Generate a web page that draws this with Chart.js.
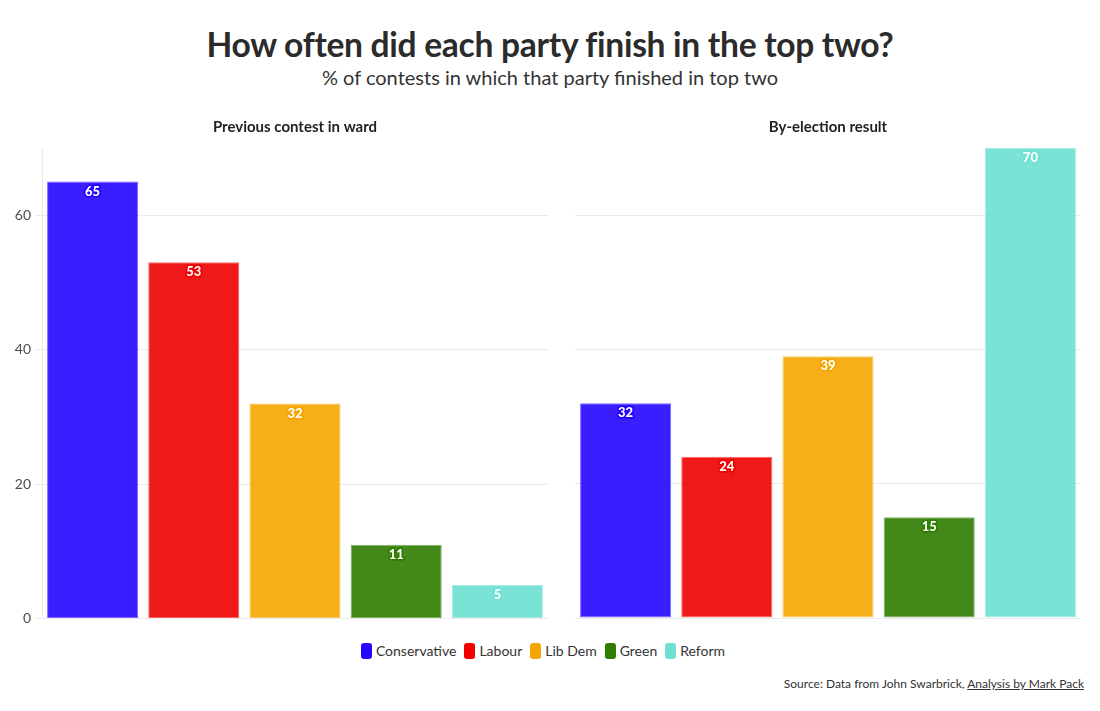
<!DOCTYPE html>
<html>
<head>
<meta charset="utf-8">
<script src="https://cdn.jsdelivr.net/npm/chart.js@4"></script>
<style>
  html, body { margin: 0; padding: 0; background: #fff; }
  body { width: 1100px; height: 711px; position: relative; overflow: hidden; font-family: Lato, "Noto Sans", sans-serif; color: #333; }
  #title { position: absolute; left: 0; width: 1100px; top: 24px; text-align: center; font-size: 33.6px; font-weight: 700; color: #2b2b2b; letter-spacing: -0.3px; }
  #subtitle { position: absolute; left: 0; width: 1100px; top: 65px; text-align: center; font-size: 20px; font-weight: 400; color: #333; }
  .panel { position: absolute; top: 110px; height: 521px; }
  #p1 { left: 0; width: 548px; }
  #p2 { left: 575px; width: 506px; }
  #legend { position: absolute; left: -7px; width: 1100px; top: 642px; display: flex; justify-content: center; font-size: 14px; color: #333; }
  .li { display: flex; align-items: center; margin: 0 4px; }
  .sw { width: 11px; height: 16px; border-radius: 3px; margin-right: 4px; }
  #source { position: absolute; right: 16px; top: 676px; font-size: 12px; color: #333; }
  #source u { text-decoration: underline; }
</style>
</head>
<body>
<div id="title">How often did each party finish in the top two?</div>
<div id="subtitle">% of contests in which that party finished in top two</div>
<div class="panel" id="p1"><canvas id="c1"></canvas></div>
<div class="panel" id="p2"><canvas id="c2"></canvas></div>
<div id="legend"></div>
<div id="source">Source: Data from John Swarbrick, <u>Analysis by Mark Pack</u></div>
<script>
const parties = ['Conservative', 'Labour', 'Lib Dem', 'Green', 'Reform'];
const previousValues = [65, 53, 32, 11, 5];
const byElectionValues = [32, 24, 39, 15, 70];
const yTicks = [0, 20, 40, 60];
const yMax = 70;
const panelTitles = ['Previous contest in ward', 'By-election result'];
const partyColors = ['#2605ff', '#ee0000', '#f5a500', '#2e7c00', '#6ce0d1'];

function withAlpha(hex, a) {
  const r = parseInt(hex.slice(1, 3), 16), g = parseInt(hex.slice(3, 5), 16), b = parseInt(hex.slice(5, 7), 16);
  return `rgba(${r},${g},${b},${a})`;
}

const labelPlugin = {
  id: 'barLabels',
  afterDatasetsDraw(chart) {
    const ctx = chart.ctx;
    const meta = chart.getDatasetMeta(0);
    const ds = chart.data.datasets[0];
    ctx.save();
    ctx.font = '900 13px Lato, "Noto Sans", sans-serif';
    ctx.textAlign = 'center';
    ctx.textBaseline = 'middle';
    ctx.lineJoin = 'round';
    meta.data.forEach((bar, i) => {
      const x = bar.x, y = bar.y + 10;
      const txt = String(ds.data[i]);
      ctx.lineWidth = 3.5;
      ctx.strokeStyle = partyColors[i];
      ctx.strokeText(txt, x, y);
      ctx.fillStyle = '#ffffff';
      ctx.fillText(txt, x, y);
    });
    ctx.restore();
  }
};

function makeChart(id, values, title, showAxis, padBottom) {
  return new Chart(document.getElementById(id), {
    type: 'bar',
    data: {
      labels: parties,
      datasets: [{
        data: values,
        backgroundColor: partyColors.map(c => withAlpha(c, 0.9)),
        borderColor: partyColors.map(c => withAlpha(c, 0.6)),
        borderWidth: 1,
        borderSkipped: false,
        categoryPercentage: 1.0,
        barPercentage: 0.9
      }]
    },
    options: {
      responsive: true,
      maintainAspectRatio: false,
      animation: false,
      layout: { padding: { top: 0, bottom: padBottom, left: 0, right: 0 } },
      plugins: {
        legend: { display: false },
        tooltip: { enabled: false },
        title: {
          display: true,
          text: title,
          fullSize: false,
          color: '#222',
          font: { family: 'Lato, "Noto Sans", sans-serif', size: 15, weight: 'bold', lineHeight: 1.2 },
          padding: { top: 8, bottom: 12 }
        }
      },
      scales: {
        x: { display: false, offset: true },
        y: {
          min: 0,
          max: yMax,
          afterBuildTicks(axis) { axis.ticks = yTicks.map(v => ({ value: v })); },
          afterFit(axis) { axis.width = showAxis ? 42 : 0; },
          border: { display: showAxis, color: '#ebebeb', width: 1 },
          grid: { color: '#ebebeb', lineWidth: 1, drawTicks: showAxis, tickLength: 7, tickColor: '#ebebeb' },
          ticks: {
            display: showAxis,
            padding: 4,
            color: '#4d4d4d',
            font: { family: 'Lato, "Noto Sans", sans-serif', size: 14 }
          }
        }
      }
    },
    plugins: [labelPlugin]
  });
}

makeChart('c1', previousValues, panelTitles[0], true, 10);
makeChart('c2', byElectionValues, panelTitles[1], false, 13);

const legend = document.getElementById('legend');
parties.forEach((p, i) => {
  const item = document.createElement('div');
  item.className = 'li';
  const sw = document.createElement('span');
  sw.className = 'sw';
  sw.style.background = partyColors[i];
  const t = document.createElement('span');
  t.textContent = p;
  item.appendChild(sw);
  item.appendChild(t);
  legend.appendChild(item);
});
</script>
</body>
</html>
